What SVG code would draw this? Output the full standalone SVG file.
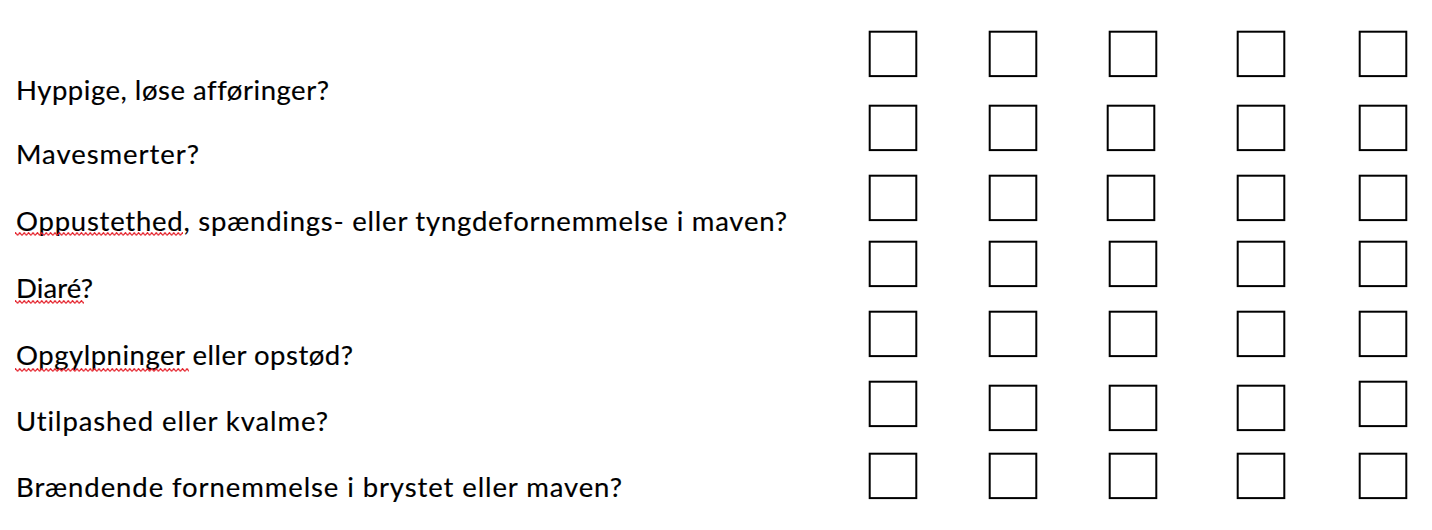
<svg xmlns="http://www.w3.org/2000/svg" width="1432" height="530" viewBox="0 0 1432 530">
<style>
.q{font-family:Lato,"Liberation Sans",sans-serif;font-size:27.5px;fill:#000;stroke:#000;stroke-width:0.15;font-variant-ligatures:none;font-feature-settings:"liga" 0}
.b{fill:#fff;stroke:#000;stroke-width:2}
</style>
<defs>
<pattern id="sq" width="4.4" height="4" patternUnits="userSpaceOnUse">
<path d="M0 3.4 L2.2 0.6 L4.4 3.4" fill="none" stroke="#e4202a" stroke-width="1.2"/>
</pattern>
</defs>
<rect width="1432" height="530" fill="#fff"/>
<g id="labels">
<text class="q" x="16" y="100" textLength="313">Hyppige, løse afføringer?</text>
<text class="q" x="16" y="164" textLength="183">Mavesmerter?</text>
<text class="q" x="16" y="231" textLength="771">Oppustethed, spændings- eller tyngdefornemmelse i maven?</text>
<text class="q" x="16" y="298" textLength="77">Diaré?</text>
<text class="q" x="16" y="365" textLength="337">Opgylpninger eller opstød?</text>
<text class="q" x="16" y="431" textLength="312">Utilpashed eller kvalme?</text>
<text class="q" x="16" y="497" textLength="606">Brændende fornemmelse i brystet eller maven?</text>
</g>
<g id="spellcheck">
<rect x="15" y="232" width="168" height="4" fill="url(#sq)"/>
<rect x="15" y="300" width="69" height="4" fill="url(#sq)"/>
<rect x="15" y="368" width="174" height="4" fill="url(#sq)"/>
</g>
<g id="row1">
<rect class="b" x="869.7" y="31.7" width="46.6" height="44.4"/>
<rect class="b" x="989.7" y="31.7" width="46.6" height="44.4"/>
<rect class="b" x="1109.7" y="31.7" width="46.6" height="44.4"/>
<rect class="b" x="1237.7" y="31.7" width="46.6" height="44.4"/>
<rect class="b" x="1359.7" y="31.7" width="46.6" height="44.4"/>
</g>
<g id="row2">
<rect class="b" x="869.7" y="105.7" width="46.6" height="44.4"/>
<rect class="b" x="989.7" y="105.7" width="46.6" height="44.4"/>
<rect class="b" x="1107.7" y="105.7" width="46.6" height="44.4"/>
<rect class="b" x="1237.7" y="105.7" width="46.6" height="44.4"/>
<rect class="b" x="1359.7" y="105.7" width="46.6" height="44.4"/>
</g>
<g id="row3">
<rect class="b" x="869.7" y="175.7" width="46.6" height="44.4"/>
<rect class="b" x="989.7" y="175.7" width="46.6" height="44.4"/>
<rect class="b" x="1107.7" y="175.7" width="46.6" height="44.4"/>
<rect class="b" x="1237.7" y="175.7" width="46.6" height="44.4"/>
<rect class="b" x="1359.7" y="175.7" width="46.6" height="44.4"/>
</g>
<g id="row4">
<rect class="b" x="869.7" y="241.7" width="46.6" height="44.4"/>
<rect class="b" x="989.7" y="241.7" width="46.6" height="44.4"/>
<rect class="b" x="1109.7" y="241.7" width="46.6" height="44.4"/>
<rect class="b" x="1237.7" y="241.7" width="46.6" height="44.4"/>
<rect class="b" x="1359.7" y="241.7" width="46.6" height="44.4"/>
</g>
<g id="row5">
<rect class="b" x="869.7" y="311.7" width="46.6" height="44.4"/>
<rect class="b" x="989.7" y="311.7" width="46.6" height="44.4"/>
<rect class="b" x="1109.7" y="311.7" width="46.6" height="44.4"/>
<rect class="b" x="1237.7" y="311.7" width="46.6" height="44.4"/>
<rect class="b" x="1359.7" y="311.7" width="46.6" height="44.4"/>
</g>
<g id="row6">
<rect class="b" x="869.7" y="381.7" width="46.6" height="44.4"/>
<rect class="b" x="989.7" y="385.7" width="46.6" height="44.4"/>
<rect class="b" x="1109.7" y="385.7" width="46.6" height="44.4"/>
<rect class="b" x="1237.7" y="385.7" width="46.6" height="44.4"/>
<rect class="b" x="1359.7" y="381.7" width="46.6" height="44.4"/>
</g>
<g id="row7">
<rect class="b" x="869.7" y="453.7" width="46.6" height="44.4"/>
<rect class="b" x="989.7" y="453.7" width="46.6" height="44.4"/>
<rect class="b" x="1109.7" y="453.7" width="46.6" height="44.4"/>
<rect class="b" x="1237.7" y="453.7" width="46.6" height="44.4"/>
<rect class="b" x="1359.7" y="453.7" width="46.6" height="44.4"/>
</g>
</svg>
